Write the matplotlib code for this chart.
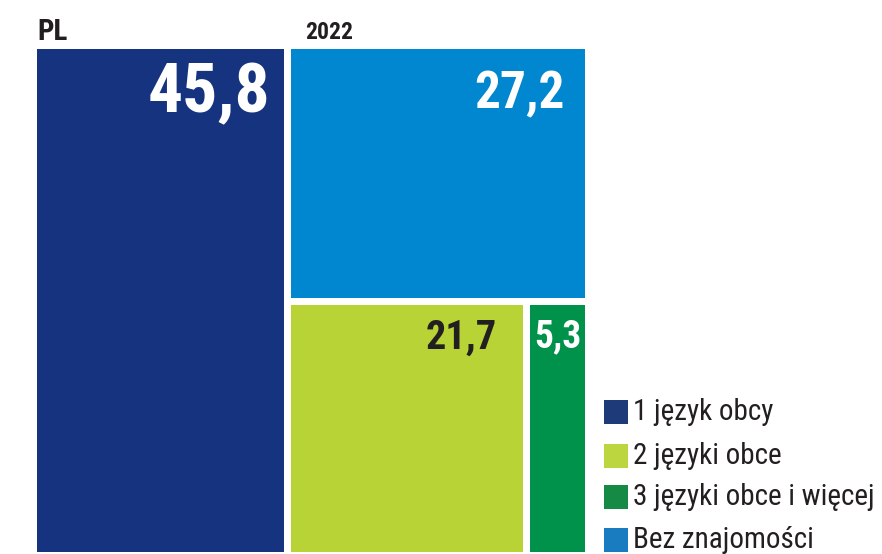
import matplotlib
matplotlib.use("Agg")
import matplotlib.pyplot as plt
from matplotlib.patches import Rectangle
from matplotlib import font_manager

names = {f.name for f in font_manager.fontManager.ttflist}
cond = [n for n in ["Liberation Sans Narrow", "DejaVu Sans Condensed", "Roboto Condensed"] if n in names]
FONT = cond + ["Roboto", "DejaVu Sans"]
plt.rcParams['font.family'] = FONT

categories = ["1 język obcy", "2 języki obce", "3 języki obce i więcej", "Bez znajomości"]
values = [45.8, 21.7, 5.3, 27.2]
labels = ["45,8", "21,7", "5,3", "27,2"]
colors = ["#163380", "#b8d335", "#00914a", "#0087d0"]
legend_colors = ["#1f3a78", "#bcd640", "#148a45", "#1a7cc0"]
label_colors = ["white", "#231f20", "white", "white"]
label_sizes = [50, 29, 27, 37]

W, H = 882, 554
fig = plt.figure(figsize=(W / 100, H / 100), dpi=100)
x0, x1, ytop, ybot = 37, 585, 49, 552
ax = fig.add_axes([x0 / W, (H - ybot) / H, (x1 - x0) / W, (ybot - ytop) / H])
aw, ah = x1 - x0, ybot - ytop
ax.set_xlim(0, aw)
ax.set_ylim(0, ah)
ax.axis("off")
gap = 7

total = sum(values)
wl = aw * values[0] / total
rects = {}
rects[0] = (0, 0, wl - gap / 2, ah)
rx = wl + gap / 2
rw = aw - rx
rest = values[1] + values[2] + values[3]
ht = ah * values[3] / rest
rects[3] = (rx, ah - ht + gap / 2, rw, ht - gap / 2)
hb = ah - ht - gap / 2
w1 = rw * values[1] / (values[1] + values[2])
rects[1] = (rx, 0, w1 - gap / 2 - 1, hb)
rects[2] = (rx + w1 + gap / 2 - 1, 0, rw - w1 - gap / 2 + 1, hb)

pads = {0: (14, 12), 3: (20, 20), 1: (26, 14), 2: (4, 13)}
for i in range(4):
    x, y, w, h = rects[i]
    ax.add_patch(Rectangle((x, y), w, h, facecolor=colors[i], edgecolor="none"))
    px, py = pads[i]
    ax.text(x + w - px, y + h - py, labels[i], ha="right", va="top",
            color=label_colors[i], fontsize=label_sizes[i], fontweight="bold")

fig.text(37 / W, 1 - 40 / H, "PL", fontsize=21, fontweight="bold", color="#231f20",
         ha="left", va="baseline")
fig.text(305 / W, 1 - 39 / H, "2022", fontsize=17, fontweight="bold", color="#231f20",
         ha="left", va="baseline")

ys = [412, 456, 497, 540]
for c, lab, yc in zip(legend_colors, categories, ys):
    fig.patches.append(Rectangle((604 / W, 1 - (yc + 12) / H), 24 / W, 24 / H,
                                 transform=fig.transFigure, facecolor=c, edgecolor="none"))
    fig.text(633 / W, 1 - yc / H, lab, fontsize=21, color="#231f20", ha="left", va="center")

fig.savefig("out.png", dpi=100)
